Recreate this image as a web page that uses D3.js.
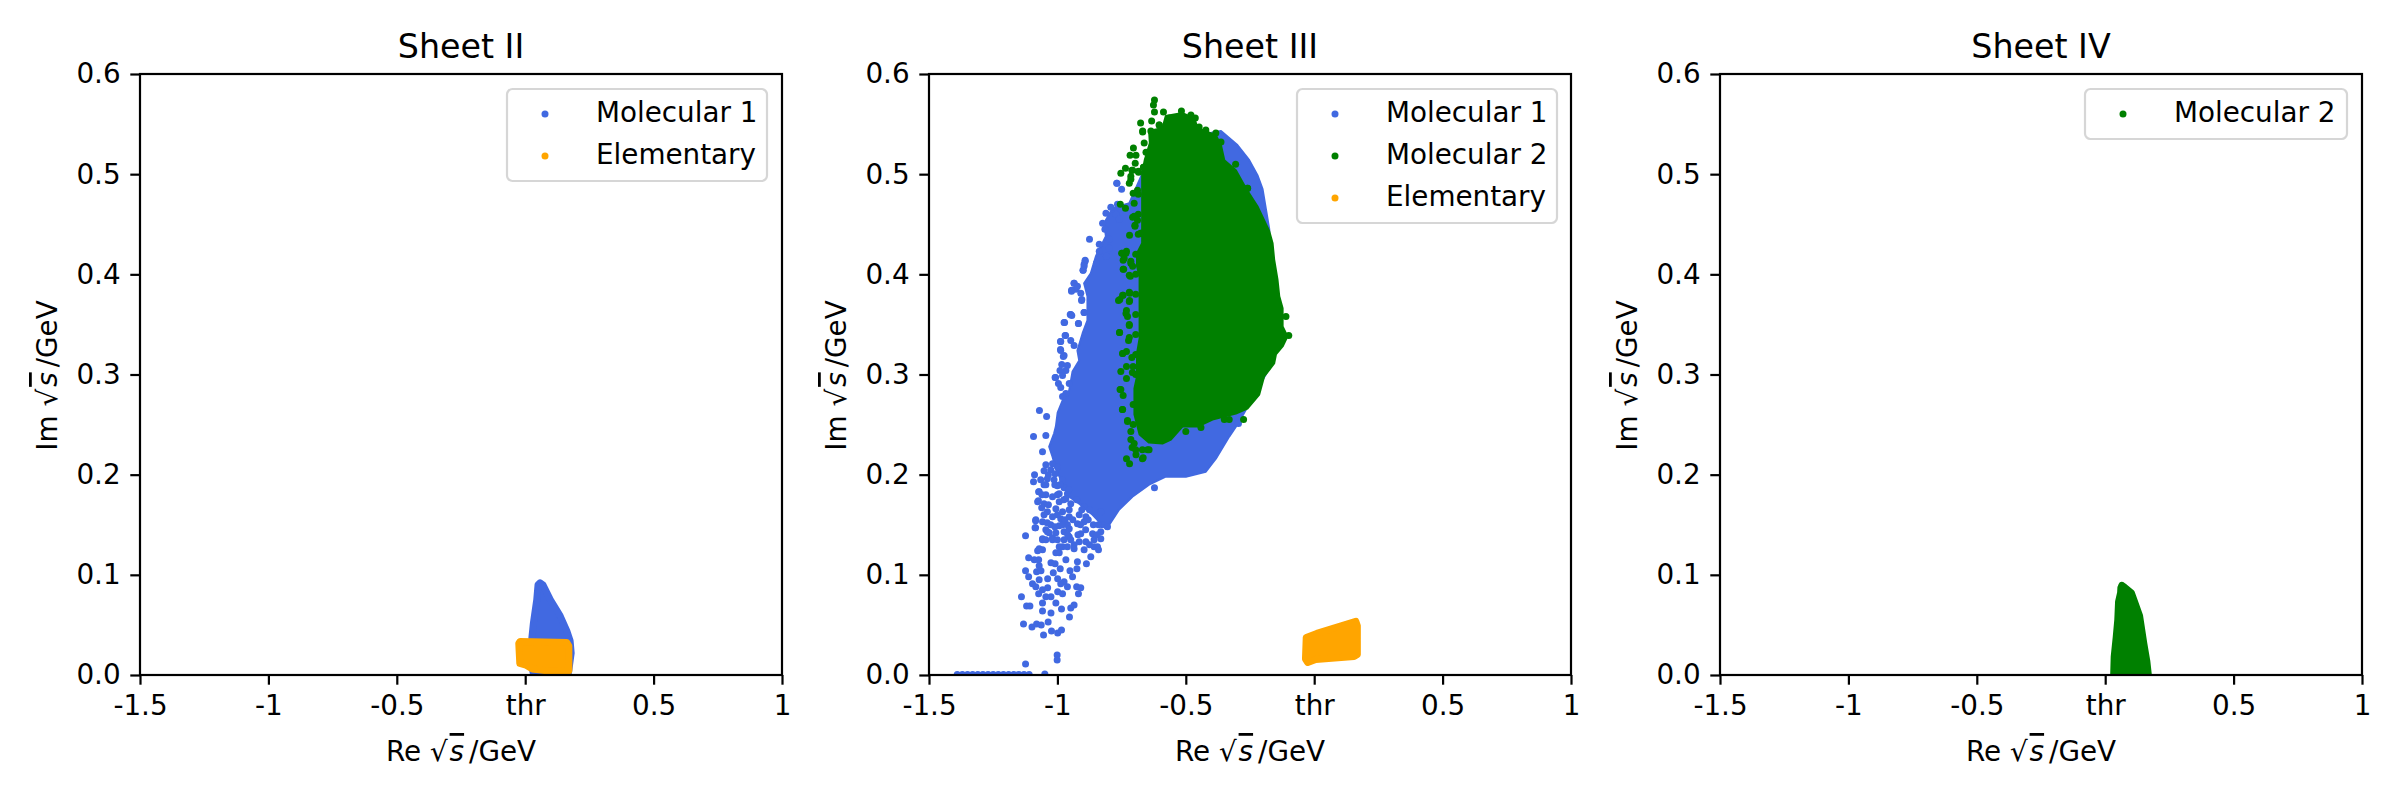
<!DOCTYPE html>
<html>
<head>
<meta charset="utf-8">
<script src="https://cdn.jsdelivr.net/npm/d3@7"></script>
<style>
  body { margin: 0; background: #fff; }
  text { font-family: "DejaVu Sans", sans-serif; fill: #000; }
</style>
</head>
<body>
<svg id="chart" width="2400" height="800"></svg>
<script>
const xTickValues = [-1.5, -1, -0.5, 0, 0.5, 1];
const xTickLabels = ["-1.5", "-1", "-0.5", "thr", "0.5", "1"];
const yTickValues = [0, 0.1, 0.2, 0.3, 0.4, 0.5, 0.6];

// the clouds are too dense to read dot by dot: the solid part of each one is its
// outline, the loose dots around it are listed one by one

// Sheet II
const sheet2Mol1Outline = [[.058,.092],[.069,.09],[.098,.075],[.136,.059],[.162,.044],[.175,.034],[.179,.022],[.169,.003],[.03,.003],[.026,.037],[.032,.052],[.045,.075],[.05,.09]];
const sheet2ElemOutline = [[-.025,.0315],[-.02,.0335],[.162,.0325],[.17,.029],[.17,.004],[.165,.0035],[.091,.004],[.028,.006],[.002,.01],[-.021,.0115]];

// Sheet III
const sheet3Mol1Outline = [[-.363,.543],[-.299,.529],[-.253,.514],[-.221,.499],[-.201,.485],[-.188,.465],[-.175,.445],[-.156,.315],[-.292,.253],[-.331,.238],[-.383,.216],[-.422,.203],[-.5,.198],[-.578,.198],[-.643,.19],[-.708,.178],[-.76,.165],[-.798,.15],[-.811,.146],[-.863,.16],[-.915,.171],[-.954,.178],[-.98,.191],[-1.006,.206],[-1.019,.218],[-1.032,.228],[-1.013,.241],[-1.006,.248],[-.999,.262],[-.98,.274],[-.954,.284],[-.941,.303],[-.915,.314],[-.922,.324],[-.902,.341],[-.883,.354],[-.883,.378],[-.896,.391],[-.87,.401],[-.85,.418],[-.811,.438],[-.818,.451],[-.785,.466],[-.72,.471],[-.617,.531]];
const sheet3Mol1Dots = [[-1.07,.264],[-1.042,.258],[-1.093,.238],[-1.045,.239],[-1.058,.223],[-1.089,.2],[-1.093,.193],[-1.073,.183],[-1.077,.173],[-1.085,.154],[-1.085,.147],[-1.124,.139],[-1.058,.136],[-1.077,.124],[-1.058,.125],[-1.112,.117],[-1.09,.115],[-1.073,.115],[-1.124,.104],[-1.112,.098],[-1.081,.103],[-1.064,.104],[-1.071,.109],[-1.071,.095],[-1.038,.096],[-1.097,.091],[-1.084,.088],[-1.038,.087],[-1.073,.081],[-1.058,.085],[-1.045,.078],[-1.14,.078],[-1.12,.069],[-1.107,.069],[-1.058,.072],[-1.025,.078],[-1.006,.072],[-.98,.081],[-.999,.083],[-1.058,.064],[-1.025,.062],[-.984,.066],[-.948,.067],[-.935,.07],[-.953,.058],[-1.132,.051],[-1.099,.048],[-1.081,.051],[-1.063,.05],[-1.036,.053],[-1.023,.044],[-.999,.042],[-.984,.045],[-1.054,.04],[-1.001,.02],[-1.001,.015],[-1.124,.011],[-1.049,.001],[-.961,.088],[-.974,.093],[-.987,.091],[-.999,.096],[-1.016,.102],[-1.025,.112],[-1.009,.111],[-.989,.106],[-.941,.098],[-.951,.104],[-.924,.106],[-.918,.081],[-.925,.088],[-.909,.087],[-.887,.111],[-.87,.118],[-.922,.113],[-.967,.115],[-.993,.122],[-1.006,.122],[-.98,.128],[-.935,.13],[-.896,.125],[-1.032,.142],[-1.019,.137],[-.954,.138],[-1.045,.145],[-.875,.435],[-.892,.414],[-.896,.41],[-.9,.404],[-.935,.391],[-.945,.384],[-.928,.385],[-.905,.375],[-.896,.362],[-.948,.36],[-.972,.352],[-.918,.351],[-.968,.339],[-.988,.333],[-.988,.325],[-.974,.319],[-.768,.491],[-.75,.485],[-.811,.461],[-.792,.467],[-.766,.47],[-.772,.46],[-.759,.455],[-.824,.451],[-.815,.445],[-.798,.435],[-.837,.43],[-.837,.423],[-.798,.426],[-.848,.411],[-.809,.418],[-1.007,.297],[-.622,.187],[-.295,.251]];
const sheet3Mol1LowerDots = [[-1.045,.21],[-1.019,.211],[-1,.208],[-1.052,.204],[-1.026,.205],[-1.009,.201],[-1.065,.195],[-1.039,.196],[-1.013,.195],[-.98,.195],[-1.052,.19],[-1,.189],[-.974,.187],[-1.071,.183],[-1.045,.18],[-1.019,.178],[-.993,.181],[-.961,.181],[-1.074,.174],[-1.052,.171],[-.993,.173],[-.967,.176],[-.948,.171],[-1.061,.167],[-1.039,.163],[-1.006,.166],[-.98,.163],[-.954,.165],[-.896,.168],[-1.052,.16],[-1.019,.158],[-.987,.156],[-.954,.158],[-.915,.16],[-.889,.158],[-.831,.163],[-1.084,.155],[-1.087,.147],[-1.058,.153],[-1.026,.15],[-.993,.149],[-.961,.15],[-.922,.151],[-.896,.153],[-.824,.15],[-1.039,.143],[-1.006,.142],[-.974,.143],[-.909,.141],[-.863,.141],[-.831,.143],[-.805,.148],[-.954,.146],[-1.058,.135],[-1.019,.135],[-.974,.135],[-.948,.135],[-.915,.133],[-.889,.133],[-.857,.135],[-.831,.136],[-1.071,.126],[-.993,.128],[-.961,.128],[-.935,.126],[-.857,.128],[-.844,.128],[-1.035,.2],[-1.01,.19],[-1.045,.19],[-.99,.19],[-.975,.175],[-.955,.185],[-1,.18],[-1.06,.18],[-1.035,.17],[-1,.16],[-.97,.155],[-.94,.155],[-.91,.15],[-.875,.165],[-.86,.15],[-.84,.15],[-1.04,.152],[-1.01,.148],[-.98,.15],[-.92,.14],[-.89,.145],[-.845,.14],[-1.045,.135],[-1,.135],[-.96,.14],[-.875,.13],[-.84,.125],[-.925,.175],[-.905,.165],[-.88,.155]];
const sheet3Mol1UpperDots = [[-.892,.413],[-.896,.408],[-.9,.404],[-.935,.391],[-.945,.383],[-.922,.388],[-.909,.381],[-.906,.374],[-.896,.362],[-.95,.36],[-.944,.359],[-.974,.352],[-.918,.351],[-.97,.339],[-.987,.333],[-.948,.334],[-.935,.329],[-.987,.324],[-.977,.318],[-.983,.31],[-.961,.309],[-.967,.304],[-.99,.304],[-1.009,.297],[-.98,.299],[-.996,.291],[-.987,.287],[-.954,.291],[-.967,.281],[-.98,.278],[-.769,.491]];
const sheet3Mol1Flat = [[-1.39,.0005],[-1.37,.0005],[-1.35,.0005],[-1.33,.0005],[-1.31,.0005],[-1.29,.0005],[-1.27,.0005],[-1.25,.0005],[-1.23,.0005],[-1.21,.0005],[-1.19,.0005],[-1.17,.0005],[-1.15,.0005],[-1.13,.0005],[-1.11,.0005]];
const sheet3Mol2Outline = [[-.643,.543],[-.591,.546],[-.578,.558],[-.513,.561],[-.467,.556],[-.454,.546],[-.383,.539],[-.363,.529],[-.35,.514],[-.305,.504],[-.266,.486],[-.221,.468],[-.175,.443],[-.162,.431],[-.156,.415],[-.143,.395],[-.136,.378],[-.123,.366],[-.123,.348],[-.104,.338],[-.123,.328],[-.149,.32],[-.156,.311],[-.195,.298],[-.214,.28],[-.26,.266],[-.305,.261],[-.396,.255],[-.454,.248],[-.513,.248],[-.558,.235],[-.591,.231],[-.643,.232],[-.68,.24],[-.7,.26],[-.7,.286],[-.69,.298],[-.69,.308],[-.69,.321],[-.68,.336],[-.68,.361],[-.68,.381],[-.68,.398],[-.69,.408],[-.69,.421],[-.67,.431],[-.67,.451],[-.67,.471],[-.67,.486],[-.67,.501],[-.66,.514],[-.64,.531]];
const sheet3Mol2Dots = [[-.622,.574],[-.626,.569],[-.622,.562],[-.587,.562],[-.676,.551],[-.633,.553],[-.517,.563],[-.604,.549],[-.668,.543],[-.704,.526],[-.717,.519],[-.694,.519],[-.697,.511],[-.735,.506],[-.753,.501],[-.665,.507],[-.685,.503],[-.71,.504],[-.714,.495],[-.755,.47],[-.735,.466],[-.701,.458],[-.698,.449],[-.719,.439],[-.675,.441],[-.749,.421],[-.733,.421],[-.74,.416],[-.714,.413],[-.707,.408],[-.742,.405],[-.716,.398],[-.72,.382],[-.746,.379],[-.757,.375],[-.719,.374],[-.758,.342],[-.746,.321],[-.306,.51],[-.26,.486],[-.11,.358],[-.099,.339],[-.733,.361],[-.72,.35],[-.753,.285],[-.746,.265],[-.727,.254],[-.275,.255],[-.5,.243],[-.441,.247],[-.35,.255],[-.331,.255],[-.731,.216],[-.719,.211],[-.666,.217],[-.694,.22],[-.643,.225],[-.709,.227]];
const sheet3Mol2EdgeDots = [[-.48,.559],[-.463,.556],[-.564,.556],[-.538,.556],[-.603,.549],[-.668,.542],[-.636,.543],[-.448,.547],[-.422,.544],[-.383,.541],[-.363,.532],[-.662,.531],[-.655,.522],[-.486,.547],[-.664,.507],[-.684,.502],[-.707,.504],[-.714,.498],[-.72,.491],[-.688,.484],[-.705,.481],[-.701,.471],[-.707,.457],[-.688,.454],[-.698,.448],[-.675,.441],[-.259,.486],[-.758,.342],[-.762,.374],[-.744,.379],[-.718,.381],[-.72,.373],[-.731,.364],[-.727,.358],[-.746,.321],[-.731,.323],[-.71,.317],[-.753,.303],[-.731,.308],[-.705,.308],[-.708,.302],[-.731,.296],[-.756,.285],[-.744,.279],[-.749,.421],[-.731,.423],[-.744,.414],[-.714,.411],[-.744,.405],[-.72,.399],[-.72,.349],[-.72,.337],[-.723,.334],[-.747,.265],[-.727,.253],[-.714,.243],[-.714,.235],[-.701,.231],[-.695,.225],[-.669,.225],[-.649,.225],[-.669,.216],[-.695,.3],[-.695,.32],[-.695,.34],[-.695,.36],[-.695,.38],[-.695,.4],[-.695,.42],[-.685,.44],[-.685,.46],[-.685,.48],[-.705,.27],[-.705,.25]];
const sheet3ElemOutline = [[-.031,.0375],[.01,.0415],[.162,.0535],[.168,.049],[.168,.0205],[.155,.0185],[.006,.0155],[-.025,.0125],[-.034,.016]];

// Sheet IV
const sheet4Mol2Outline = [[.065,.0895],[.076,.0875],[.102,.082],[.116,.072],[.134,.059],[.15,.032],[.162,.014],[.168,0],[.033,0],[.035,.018],[.043,.038],[.049,.055],[.052,.073],[.06,.082],[.061,.087]];

const mol1 = { name: "Molecular 1", color: "#4169e1" };
const mol2 = { name: "Molecular 2", color: "#008000" };
const elem = { name: "Elementary", color: "#ffa500" };

const panels = [
  { title: "Sheet II", left: 140, legendLeft: 507, legendRight: 767,
    legend: [mol1, elem],
    layers: [
      { kind: mol1, outline: sheet2Mol1Outline, edge: 7, dots: [] },
      { kind: elem, outline: sheet2ElemOutline, edge: 7, dots: [] }
    ] },
  { title: "Sheet III", left: 929, legendLeft: 1297, legendRight: 1557,
    legend: [mol1, mol2, elem],
    layers: [
      { kind: mol1, outline: sheet3Mol1Outline, edge: 2, dots: sheet3Mol1Dots.concat(sheet3Mol1LowerDots, sheet3Mol1UpperDots, sheet3Mol1Flat) },
      { kind: mol2, outline: sheet3Mol2Outline, edge: 2, dots: sheet3Mol2Dots.concat(sheet3Mol2EdgeDots) },
      { kind: elem, outline: sheet3ElemOutline, edge: 7, dots: [] }
    ] },
  { title: "Sheet IV", left: 1720, legendLeft: 2085, legendRight: 2347,
    legend: [mol2],
    layers: [
      { kind: mol2, outline: sheet4Mol2Outline, edge: 7, dots: [] }
    ] }
];

const plotWidth = 642, plotTop = 74, plotBottom = 675;
const dotRadius = 3.5, lineW = 2.2, fontSize = 27.8;

const svg = d3.select("#chart");

panels.forEach(function (p, idx) {
  const x = d3.scaleLinear().domain([-1.5, 1]).range([p.left, p.left + plotWidth]);
  const y = d3.scaleLinear().domain([0, 0.6]).range([plotBottom, plotTop]);

  const g = svg.append("g");

  g.append("clipPath").attr("id", "clip" + idx)
    .append("rect")
    .attr("x", p.left).attr("y", plotTop)
    .attr("width", plotWidth).attr("height", plotBottom - plotTop);

  const plot = g.append("g").attr("clip-path", "url(#clip" + idx + ")");
  const outline = d3.line().x(d => x(d[0])).y(d => y(d[1])).curve(d3.curveLinearClosed);

  p.layers.forEach(function (layer) {
    plot.append("path")
      .attr("d", outline(layer.outline))
      .attr("fill", layer.kind.color)
      .attr("stroke", layer.kind.color)
      .attr("stroke-width", layer.edge)
      .attr("stroke-linejoin", "round");
    plot.selectAll(null)
      .data(layer.dots)
      .enter()
      .append("circle")
      .attr("cx", d => x(d[0]))
      .attr("cy", d => y(d[1]))
      .attr("r", dotRadius)
      .attr("fill", layer.kind.color);
  });

  // axes
  const xAxis = d3.axisBottom(x)
    .tickValues(xTickValues)
    .tickFormat((d, i) => xTickLabels[i])
    .tickSize(9.7).tickPadding(11);
  const yAxis = d3.axisLeft(y)
    .tickValues(yTickValues)
    .tickFormat(d3.format(".1f"))
    .tickSize(9.7).tickPadding(9.7);

  const gx = g.append("g").attr("transform", "translate(0," + plotBottom + ")").call(xAxis);
  const gy = g.append("g").attr("transform", "translate(" + p.left + ",0)").call(yAxis);
  [gx, gy].forEach(function (a) {
    a.select(".domain").remove();
    a.selectAll("line").attr("stroke", "#000").attr("stroke-width", lineW);
    a.selectAll("text").attr("font-size", fontSize).attr("font-family", "DejaVu Sans");
  });

  g.append("rect")
    .attr("x", p.left).attr("y", plotTop)
    .attr("width", plotWidth).attr("height", plotBottom - plotTop)
    .attr("fill", "none").attr("stroke", "#000").attr("stroke-width", lineW);

  // title and labels
  g.append("text")
    .attr("x", p.left + plotWidth / 2).attr("y", 58)
    .attr("text-anchor", "middle").attr("font-size", 33.3)
    .text(p.title);

  axisLabel(g.append("text")
    .attr("x", p.left + plotWidth / 2).attr("y", 761)
    .attr("text-anchor", "middle"), "Re");

  axisLabel(g.append("text")
    .attr("transform", "translate(" + (p.left - 83) + "," + ((plotTop + plotBottom) / 2 + 1) + ") rotate(-90)")
    .attr("text-anchor", "middle"), "Im");

  // legend
  const rowH = 42;
  g.append("rect")
    .attr("x", p.legendLeft).attr("y", 89)
    .attr("width", p.legendRight - p.legendLeft).attr("height", 8 + p.legend.length * rowH)
    .attr("rx", 5.5)
    .attr("fill", "#fff").attr("fill-opacity", 0.8)
    .attr("stroke", "#d6d6d6").attr("stroke-width", lineW);

  const rows = g.selectAll(".row")
    .data(p.legend)
    .enter()
    .append("g")
    .attr("transform", (d, i) => "translate(" + p.legendLeft + "," + (114 + i * rowH) + ")");
  rows.append("circle").attr("cx", 38).attr("cy", 0).attr("r", dotRadius).attr("fill", d => d.color);
  rows.append("text").attr("x", 89).attr("y", 8).attr("font-size", fontSize).text(d => d.name);
});

function axisLabel(t, prefix) {
  t.attr("font-size", fontSize);
  t.append("tspan").text(prefix + " √");
  t.append("tspan")
    .attr("dx", 2)
    .attr("font-style", "italic")
    .attr("text-decoration", "overline")
    .text("s");
  t.append("tspan").attr("dx", 5).text("/GeV");
}
</script>
</body>
</html>
